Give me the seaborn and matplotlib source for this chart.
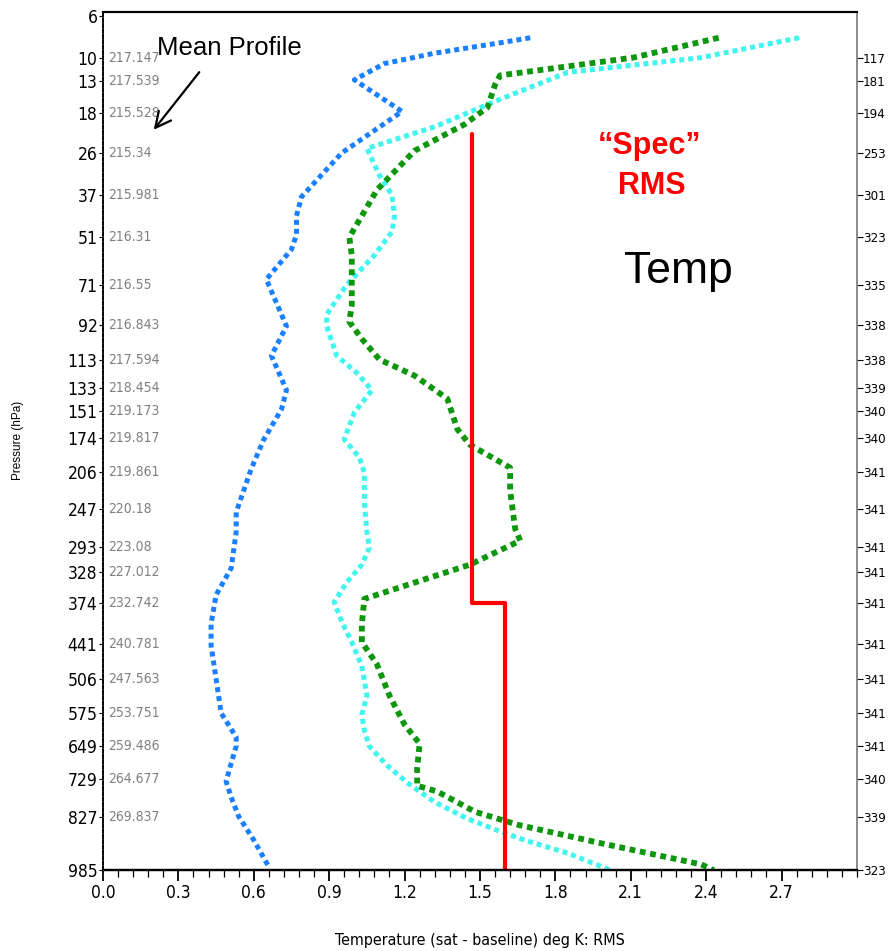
import numpy as np
import matplotlib
matplotlib.use("Agg")
import matplotlib.pyplot as plt
import seaborn as sns
from matplotlib.ticker import MultipleLocator, FixedLocator
from matplotlib.font_manager import FontProperties, findfont

# ========================
# Data
# ========================
tick_levels = [6, 10, 13, 18, 26, 37, 51, 71, 92, 113, 133, 151, 174, 206, 247,
               293, 328, 374, 441, 506, 575, 649, 729, 827, 985]
mean_profile = ["217.147", "217.539", "215.528", "215.34", "215.981", "216.31",
                "216.55", "216.843", "217.594", "218.454", "219.173", "219.817",
                "219.861", "220.18", "223.08", "227.012", "232.742", "240.781",
                "247.563", "253.751", "259.486", "264.677", "269.837"]
right_labels = [117, 181, 194, 253, 301, 323, 335, 338, 338, 339, 340, 340,
                341, 341, 341, 341, 341, 341, 341, 341, 341, 340, 339, 323]

blue_x = [1.70, 1.58, 1.32, 1.12, 1.00, 1.19, 0.95, 0.79, 0.77, 0.77,
          0.75, 0.65, 0.71, 0.73, 0.67, 0.70, 0.73, 0.71, 0.64, 0.59,
          0.53, 0.53, 0.51, 0.45, 0.43, 0.43, 0.45, 0.47, 0.53, 0.53,
          0.51, 0.49, 0.51, 0.54, 0.60, 0.66]
blue_p = [7.9, 8.4, 9.5, 10.7, 12.8, 17.7, 26, 37.5, 43.5, 50,
          55.7, 68.5, 86, 92.5, 110.5, 122, 134.5, 149.5, 175, 203,
          250, 274, 322, 361, 407, 444, 506, 575, 628, 649,
          689, 734, 775, 827, 894, 975]

cyan_x = [2.77, 2.38, 1.85, 1.56, 1.32, 1.05, 1.10, 1.15, 1.16, 1.15,
          1.08, 0.97, 0.89, 0.89, 0.93, 1.01, 1.07, 1.00, 0.96, 1.02,
          1.04, 1.04, 1.05, 1.06, 1.03, 0.97, 0.92, 0.95, 0.99, 1.03,
          1.05, 1.03, 1.04, 1.06, 1.13, 1.21, 1.32, 1.45, 1.58, 1.69,
          1.85, 2.02]
cyan_p = [7.9, 10, 11.8, 16, 20.5, 25, 31.5, 37, 43.5, 49,
          58, 71, 86, 92.5, 110.5, 122, 134.5, 152, 175, 192,
          207, 238, 274, 294, 317, 342, 372, 403, 438, 481,
          539, 579, 613, 649, 694, 737, 788, 833, 869, 897,
          933, 985]

green_x = [2.45, 2.11, 1.58, 1.56, 1.53, 1.44, 1.24, 1.09, 1.03, 0.98,
           0.99, 0.99, 0.99, 0.98, 1.03, 1.10, 1.24, 1.37, 1.41, 1.46,
           1.62, 1.62, 1.64, 1.66, 1.46, 1.04, 1.03, 1.03, 1.09, 1.14,
           1.20, 1.26, 1.25, 1.25, 1.33, 1.48, 1.65, 1.98, 2.38, 2.43]
green_p = [7.9, 10, 12.2, 13.5, 17, 20, 25.5, 35.5, 43.5, 51,
           58, 66.5, 81, 90, 100, 113, 124, 141, 166, 180,
           202, 226, 270, 285, 317, 367, 407, 438, 478, 539,
           600, 643, 702, 745, 760, 814, 850, 903, 967, 985]

spec_x = [1.47, 1.47, 1.60, 1.60]
spec_p = [22, 374, 374, 985]

# ========================
# Style
# ========================
sns.set_style("white")
plt.rcParams["font.family"] = ["Liberation Sans", "DejaVu Sans"]
plt.rcParams["text.color"] = "black"
plt.rcParams["xtick.color"] = "black"
plt.rcParams["ytick.color"] = "black"
plt.rcParams["axes.edgecolor"] = "black"

# narrow font for tick labels (condensed DejaVu if present)
cond = FontProperties(family="DejaVu Sans", stretch="condensed")
if "Condensed" in findfont(cond):
    tick_font = dict(family="DejaVu Sans", stretch="condensed")
    tsize, rsize, gsize = 11.5, 9.5, 10
else:
    tick_font = dict(family="DejaVu Sans")
    tsize, rsize, gsize = 10, 8.5, 8.5

EXP = 0.28
fwd = lambda p: np.power(np.clip(p, 1e-9, None), EXP)
inv = lambda v: np.power(np.clip(v, 0, None), 1 / EXP)

fig = plt.figure(figsize=(8.88, 9.51), dpi=100)
ax = fig.add_axes([0.116, 0.085, 0.849, 0.902])
ax.set_yscale("function", functions=(fwd, inv))

dots = (0, (1, 0.8))
sns.lineplot(x=blue_x, y=blue_p, sort=False, estimator=None, ax=ax,
             color="#1a80ff", lw=3.6, linestyle=dots, dash_capstyle="butt")
sns.lineplot(x=cyan_x, y=cyan_p, sort=False, estimator=None, ax=ax,
             color="#40f5ee", lw=3.6, linestyle=dots, dash_capstyle="butt")
sns.lineplot(x=green_x, y=green_p, sort=False, estimator=None, ax=ax,
             color="#0f960f", lw=4.2, linestyle=dots, dash_capstyle="butt")
sns.lineplot(x=spec_x, y=spec_p, sort=False, estimator=None, ax=ax,
             color="#ff0000", lw=3)

ax.set_xlim(0, 3.0)
ax.set_ylim(985, 5.7)
ax.set_xlabel("")
ax.set_ylabel("")

# x axis ticks
xt = np.arange(0, 2.75, 0.3)
ax.xaxis.set_major_locator(FixedLocator(xt))
ax.xaxis.set_minor_locator(MultipleLocator(0.06))
ax.set_xticklabels([f"{v:.1f}" for v in xt], fontsize=tsize + 1, **tick_font)
ax.tick_params(axis="x", which="major", bottom=True, direction="out", length=8, width=1.3, pad=2)
ax.tick_params(axis="x", which="minor", bottom=True, direction="out", length=5, width=0.9)

# left pressure ticks
ax.set_yticks(tick_levels)
ax.set_yticklabels([str(v) for v in tick_levels], fontsize=tsize + 1, **tick_font)
ax.yaxis.set_minor_locator(FixedLocator([]))
ax.tick_params(axis="y", which="major", left=True, direction="out", length=3, width=0.8, pad=1)

# mean profile values inside the axes
trans = matplotlib.transforms.blended_transform_factory(ax.transAxes, ax.transData)
for p, s in zip(tick_levels[1:-1], mean_profile):
    ax.text(0.007, p, s, transform=trans, ha="left", va="center",
            color="#808080", fontsize=gsize, **tick_font)

# right axis
ax2 = ax.twinx()
ax2.set_yscale("function", functions=(fwd, inv))
ax2.set_ylim(985, 5.7)
ax2.set_yticks(tick_levels[1:])
ax2.set_yticklabels([str(v) for v in right_labels], fontsize=rsize, **tick_font)
ax2.yaxis.set_minor_locator(FixedLocator([]))
ax2.tick_params(axis="y", which="major", right=True, direction="out", length=4, width=0.8, pad=0.5)

for a in (ax, ax2):
    a.spines["left"].set_linestyle((0, (2, 1.2)))
    a.spines["left"].set_linewidth(1.2)
    a.spines["top"].set_linewidth(1.5)
    a.spines["bottom"].set_linewidth(1.6)
    a.spines["right"].set_color("#8a8a8a")
    a.spines["right"].set_linewidth(1.2)
    for s in a.spines.values():
        s.set_zorder(5)

# labels and annotations
fig.text(480 / 888, 1 - 940 / 951, "Temperature (sat - baseline) deg K: RMS",
         ha="center", va="center", fontsize=tsize, **tick_font)
fig.text(18 / 888, 1 - 440 / 951, "Pressure (hPa)", rotation=90,
         ha="center", va="center", fontsize=8.5)

fig.text(229 / 888, 1 - 48 / 951, "Mean Profile", ha="center", va="center", fontsize=18.5)
ax.annotate("", xy=(152 / 888, 1 - 132 / 951), xytext=(201 / 888, 1 - 70 / 951),
            xycoords="figure fraction", textcoords="figure fraction",
            arrowprops=dict(arrowstyle="->", lw=1.6, mutation_scale=28, color="black"))

fig.text(650 / 888, 1 - 146 / 951, "\u201cSpec\u201d", ha="center", va="center",
         color="#ff0000", fontsize=22, fontweight="bold")
fig.text(652 / 888, 1 - 186 / 951, "RMS", ha="center", va="center",
         color="#ff0000", fontsize=22, fontweight="bold")
fig.text(678 / 888, 1 - 272 / 951, "Temp", ha="center", va="center",
         color="black", fontsize=32)

fig.savefig("out.png", dpi=100)
